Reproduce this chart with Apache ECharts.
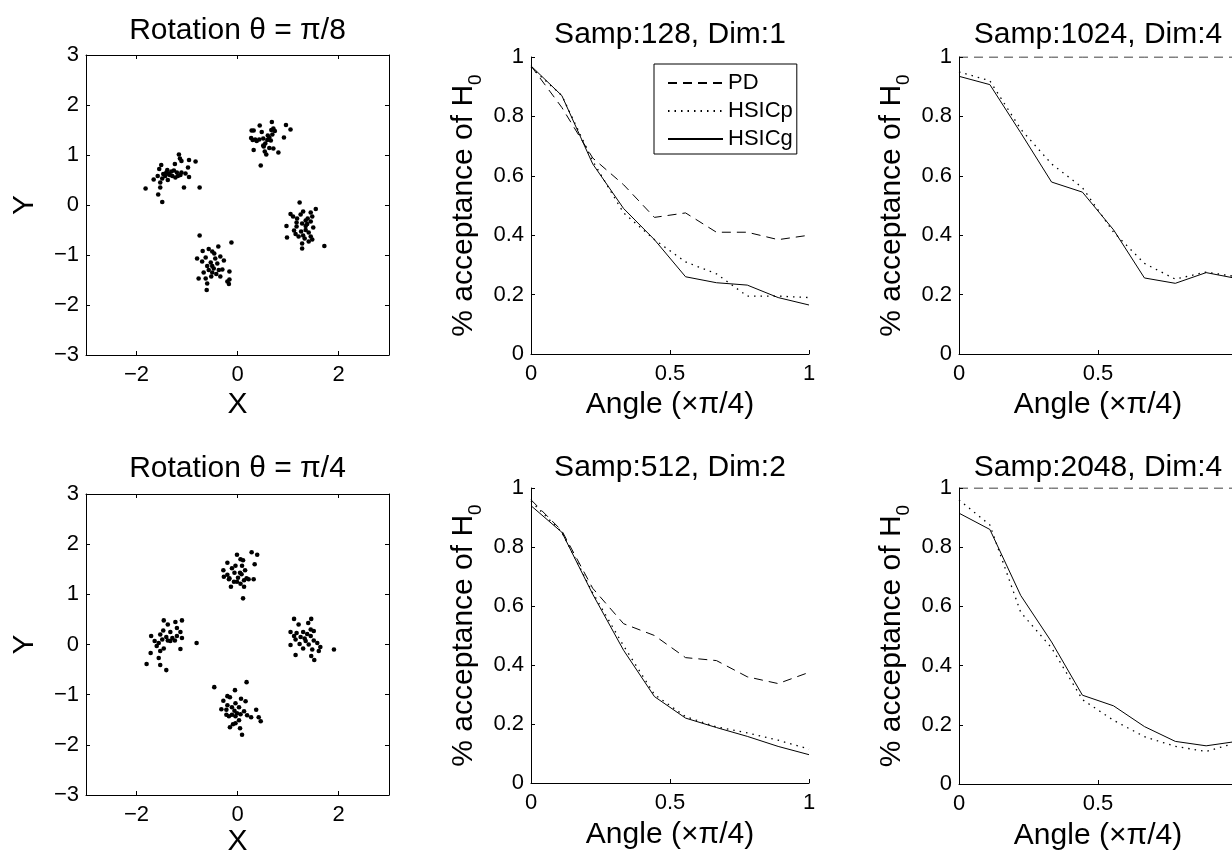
<!DOCTYPE html>
<html><head><meta charset="utf-8">
<script src="https://cdn.jsdelivr.net/npm/echarts@6/dist/echarts.min.js"></script>
<style>html,body{margin:0;padding:0;background:#fff}#c{width:1232px;height:852px}</style>
</head><body><div id="c"></div>
<script>
const FONT = '"Liberation Sans", Arial, Helvetica, sans-serif';

// ---- scatter data (rotated clusters) ----
const rotPi8 = [
 [0.44,1.59],[0.68,1.66],[0.96,1.60],[1.05,1.51],[0.28,1.49],[0.32,1.49],[0.48,1.46],[0.71,1.53],[0.67,1.50],[0.74,1.48],[0.92,1.35],[0.27,1.34],[0.30,1.30],[0.38,1.28],[0.43,1.31],[0.51,1.33],[0.59,1.30],[0.63,1.35],[0.66,1.29],[0.55,1.23],[0.52,1.17],[0.63,1.14],[0.71,1.13],[0.32,1.10],[0.54,1.07],[0.57,1.01],[0.81,1.05],[0.46,0.79],[0.35,1.31],[0.51,1.19],[0.60,1.39],[0.69,1.41],
 [-1.16,1.01],[-1.14,0.93],[-1.11,0.88],[-0.96,0.90],[-0.83,0.87],[-1.51,0.80],[-1.24,0.82],[-1.55,0.72],[-1.39,0.70],[-1.31,0.67],[-1.26,0.69],[-1.20,0.65],[-1.11,0.65],[-1.03,0.63],[-0.98,0.75],[-1.47,0.62],[-1.43,0.58],[-1.36,0.62],[-1.58,0.58],[-1.29,0.58],[-1.13,0.60],[-0.96,0.56],[-1.66,0.51],[-1.49,0.53],[-1.38,0.50],[-1.23,0.55],[-1.53,0.45],[-1.06,0.35],[-0.75,0.35],[-1.82,0.33],[-1.53,0.35],[-1.57,0.21],[-1.49,0.06],[-1.34,0.60],[-1.18,0.58],[-1.41,0.65],
 [1.23,0.05],[1.55,-0.08],[1.45,-0.15],[1.30,-0.13],[1.05,-0.18],[1.25,-0.19],[1.10,-0.23],[1.18,-0.27],[1.39,-0.27],[1.48,-0.23],[1.35,-0.31],[1.45,-0.33],[1.28,-0.37],[1.38,-0.38],[0.97,-0.42],[1.17,-0.43],[1.50,-0.45],[1.12,-0.51],[1.26,-0.53],[1.35,-0.50],[1.41,-0.55],[1.15,-0.58],[1.30,-0.61],[1.45,-0.63],[0.98,-0.65],[1.21,-0.63],[1.33,-0.67],[1.48,-0.69],[1.28,-0.77],[1.41,-0.73],[1.28,-0.87],[1.72,-0.82],[1.17,-0.35],[1.35,-0.42],
 [-0.75,-0.61],[-0.12,-0.75],[-0.57,-0.88],[-0.38,-0.83],[-0.69,-0.92],[-0.50,-0.93],[-0.46,-0.97],[-0.80,-1.07],[-0.63,-1.05],[-0.34,-1.03],[-0.27,-1.11],[-0.70,-1.13],[-0.53,-1.15],[-0.40,-1.17],[-0.60,-1.22],[-0.47,-1.27],[-0.57,-1.30],[-0.37,-1.30],[-0.30,-1.29],[-0.50,-1.35],[-0.67,-1.35],[-0.42,-1.38],[-0.16,-1.33],[-0.77,-1.47],[-0.63,-1.47],[-0.52,-1.43],[-0.34,-1.43],[-0.20,-1.53],[-0.16,-1.49],[-0.60,-1.57],[-0.17,-1.58],[-0.61,-1.70],[-0.50,-1.22],[-0.44,-1.07]
];
const rotPi4 = [
 [0.28,1.84],[0.39,1.79],[-0.01,1.79],[0.06,1.70],[0.11,1.68],[-0.20,1.63],[0.34,1.60],[-0.04,1.57],[0.09,1.57],[-0.11,1.52],[-0.28,1.48],[0.15,1.48],[0.05,1.43],[-0.06,1.43],[-0.20,1.39],[0.08,1.40],[-0.27,1.35],[-0.16,1.32],[0.01,1.33],[0.18,1.32],[0.32,1.30],[0.22,1.30],[0.13,1.28],[-0.07,1.25],[0.06,1.21],[-0.13,1.15],[0.13,1.15],[-0.01,1.25],[0.11,0.92],[-0.17,1.30],
 [-1.46,0.48],[-1.10,0.48],[-1.38,0.40],[-1.23,0.45],[-1.20,0.33],[-1.47,0.28],[-1.33,0.25],[-1.13,0.25],[-1.71,0.17],[-1.53,0.20],[-1.41,0.15],[-1.29,0.13],[-1.20,0.17],[-1.10,0.13],[-1.64,0.07],[-1.49,0.10],[-1.38,0.08],[-1.56,0.03],[-1.33,0.07],[-0.81,0.03],[-1.60,-0.03],[-1.46,-0.08],[-1.13,-0.09],[-1.72,-0.17],[-1.53,-0.13],[-1.56,-0.27],[-1.80,-0.39],[-1.53,-0.41],[-1.41,-0.51],[-1.24,0.08],
 [1.12,0.51],[1.46,0.51],[1.21,0.40],[1.40,0.43],[1.45,0.30],[1.05,0.25],[1.17,0.23],[1.30,0.25],[1.38,0.21],[1.51,0.27],[1.12,0.17],[1.25,0.15],[1.45,0.17],[1.15,0.10],[1.33,0.12],[1.51,0.08],[1.58,0.03],[1.05,-0.01],[1.23,0.01],[1.41,0.00],[1.64,-0.05],[1.30,-0.08],[1.48,-0.10],[1.15,-0.21],[1.46,-0.23],[1.52,-0.31],[1.91,-0.10],[1.61,-0.13],[1.35,0.07],
 [0.18,-0.75],[-0.46,-0.85],[-0.05,-0.91],[-0.20,-1.03],[-0.15,-1.05],[0.07,-1.08],[0.16,-1.13],[-0.28,-1.12],[-0.04,-1.17],[-0.20,-1.21],[-0.11,-1.25],[0.03,-1.25],[-0.32,-1.29],[-0.22,-1.30],[-0.06,-1.32],[0.13,-1.33],[0.37,-1.30],[-0.01,-1.37],[-0.11,-1.40],[0.06,-1.39],[0.19,-1.41],[-0.17,-1.43],[-0.04,-1.43],[0.27,-1.45],[0.42,-1.45],[0.46,-1.53],[0.03,-1.51],[-0.09,-1.59],[-0.15,-1.65],[0.05,-1.67],[0.09,-1.80],[-0.04,-1.57],[-0.22,-1.40]
];

// ---- line data: acceptance of H0 vs angle (x pi/4) ----
const angles = [0, 0.111, 0.222, 0.333, 0.444, 0.556, 0.667, 0.778, 0.889, 1];
const pd128   = [0.97, 0.83, 0.66, 0.57, 0.46, 0.475, 0.41, 0.41, 0.385, 0.40];
const hp128   = [0.965, 0.87, 0.65, 0.475, 0.385, 0.31, 0.27, 0.195, 0.195, 0.19];
const hg128   = [0.97, 0.87, 0.64, 0.49, 0.385, 0.26, 0.24, 0.232, 0.19, 0.165];
const pd1024  = [1, 1, 1, 1, 1, 1, 1, 1, 1, 1];
const hp1024  = [0.95, 0.92, 0.757, 0.64, 0.56, 0.41, 0.305, 0.252, 0.276, 0.26];
const hg1024  = [0.935, 0.907, 0.745, 0.579, 0.545, 0.418, 0.256, 0.238, 0.274, 0.254];
const pd512   = [0.96, 0.855, 0.66, 0.54, 0.50, 0.425, 0.415, 0.36, 0.337, 0.375];
const hp512   = [0.955, 0.85, 0.645, 0.465, 0.30, 0.225, 0.19, 0.17, 0.145, 0.115];
const hg512   = [0.94, 0.85, 0.64, 0.45, 0.293, 0.22, 0.188, 0.158, 0.124, 0.096];
const pd2048  = [1, 1, 1, 1, 1, 1, 1, 1, 1, 1];
const hp2048  = [0.96, 0.875, 0.58, 0.46, 0.285, 0.215, 0.16, 0.127, 0.11, 0.14];
const hg2048  = [0.915, 0.86, 0.637, 0.48, 0.30, 0.264, 0.194, 0.144, 0.129, 0.144];

const scatterTitles = ['Rotation \u03b8 = \u03c0/8', 'Rotation \u03b8 = \u03c0/4'];
const lineTitles = ['Samp:128, Dim:1', 'Samp:512, Dim:2', 'Samp:1024, Dim:4', 'Samp:2048, Dim:4'];
const legendNames = ['PD', 'HSICp', 'HSICg'];
const scatterXTicks = [-2, 0, 2];

const TICK = 22, NAME = 30, TITLE = 30;
const fmtMinus = v => String(v).replace('-', '\u2212');
const axLine = {show: true, onZero: false, lineStyle: {color: '#000', width: 1}};
const tickSt = {color: '#000', width: 1};
const lbl = (extra) => Object.assign({color: '#000', fontSize: TICK, fontFamily: FONT}, extra);

// grids: 0,1 scatter; 2..5 line plots
const grids = [
  {left: 86, top: 55, width: 303, height: 300},
  {left: 86, top: 494, width: 303, height: 301},
  {left: 531, top: 57, width: 278, height: 297},
  {left: 531, top: 488, width: 278, height: 295},
  {left: 959, top: 57, width: 278, height: 297},
  {left: 959, top: 488, width: 278, height: 296}
].map(g => Object.assign({outerBoundsMode: 'none', containLabel: false}, g));
const scatterNameGaps = [35, 30];
const lineNameGaps = [36, 37, 36, 37];

const xAxes = [], yAxes = [];
[0, 1].forEach(g => {
  xAxes.push({gridIndex: g, type: 'value', min: -3, max: 3, position: 'bottom',
    axisLine: axLine, splitLine: {show: false},
    axisTick: {show: true, inside: true, length: 4, customValues: scatterXTicks, lineStyle: tickSt},
    axisLabel: lbl({customValues: scatterXTicks, formatter: fmtMinus, margin: 9}),
    name: 'X', nameLocation: 'middle', nameGap: scatterNameGaps[g],
    nameTextStyle: {color: '#000', fontSize: NAME, fontFamily: FONT}});
  xAxes.push({gridIndex: g, type: 'value', min: -3, max: 3, position: 'top',
    axisLine: axLine, splitLine: {show: false},
    axisTick: {show: true, inside: true, length: 4, customValues: scatterXTicks, lineStyle: tickSt},
    axisLabel: {show: false}});
  yAxes.push({gridIndex: g, type: 'value', min: -3, max: 3, interval: 1, position: 'left',
    axisLine: axLine, splitLine: {show: false},
    axisTick: {show: true, inside: true, length: 4, lineStyle: tickSt},
    axisLabel: lbl({formatter: fmtMinus, margin: 7}),
    name: 'Y', nameLocation: 'middle', nameRotate: 90, nameGap: 46,
    nameTextStyle: {color: '#000', fontSize: NAME, fontFamily: FONT}});
  yAxes.push({gridIndex: g, type: 'value', min: -3, max: 3, interval: 1, position: 'right',
    axisLine: axLine, splitLine: {show: false},
    axisTick: {show: true, inside: true, length: 4, lineStyle: tickSt},
    axisLabel: {show: false}});
});
[2, 3, 4, 5].forEach((g, k) => {
  xAxes.push({gridIndex: g, type: 'value', min: 0, max: 1, interval: 0.5,
    axisLine: axLine, splitLine: {show: false},
    axisTick: {show: true, inside: true, length: 4, lineStyle: tickSt},
    axisLabel: lbl({margin: 9, showMaxLabel: true}),
    name: 'Angle (\u00d7\u03c0/4)', nameLocation: 'middle', nameGap: lineNameGaps[k],
    nameTextStyle: {color: '#000', fontSize: NAME, fontFamily: FONT}});
  yAxes.push({gridIndex: g, type: 'value', min: 0, max: 1, interval: 0.2,
    axisLine: axLine, splitLine: {show: false},
    axisTick: {show: true, inside: true, length: 4, lineStyle: tickSt},
    axisLabel: lbl({margin: 7}),
    name: '{a|% acceptance of H}{b|0}', nameLocation: 'middle', nameRotate: 90, nameGap: 50,
    nameTextStyle: {color: '#000', fontFamily: FONT,
      rich: {a: {fontSize: NAME, fontFamily: FONT, color: '#000', lineHeight: 32, verticalAlign: 'top'},
             b: {fontSize: 19, fontFamily: FONT, color: '#000', lineHeight: 19, padding: [17, 0, 0, 0], verticalAlign: 'top'}}}});
});

const series = [];
[rotPi8, rotPi4].forEach((pts, i) => {
  series.push({type: 'scatter', xAxisIndex: i * 2, yAxisIndex: i * 2, data: pts,
    symbol: 'circle', symbolSize: 4.6, itemStyle: {color: '#000', opacity: 1}, silent: true});
});
const dashes = {PD: [9, 6], HSICp: [1.5, 5], HSICg: 'solid'};
const lineSets = [
  [pd128, hp128, hg128],
  [pd512, hp512, hg512],
  [pd1024, hp1024, hg1024],
  [pd2048, hp2048, hg2048]
];
lineSets.forEach((set, k) => {
  const ax = 4 + k;
  set.forEach((vals, j) => {
    const name = legendNames[j];
    series.push({type: 'line', name: name, xAxisIndex: ax, yAxisIndex: ax,
      data: angles.map((a, i) => [a, vals[i]]), symbol: 'none', showSymbol: false, silent: true,
      lineStyle: {color: '#000', width: name === 'HSICp' ? 1.3 : 1, type: dashes[name]},
      itemStyle: {color: '#000'}});
  });
});

// titles (centered over each axes box)
const titleCenters = [
  [237.5, 31, scatterTitles[0]], [237.5, 469, scatterTitles[1]],
  [670, 35, lineTitles[0]], [670, 468, lineTitles[1]],
  [1098, 35, lineTitles[2]], [1098, 468, lineTitles[3]]
];
const graphics = titleCenters.map(t => ({type: 'text', x: t[0], y: t[1], silent: true,
  style: {text: t[2], fill: '#000', font: TITLE + 'px ' + FONT, align: 'center', verticalAlign: 'middle',
          textAlign: 'center', textVerticalAlign: 'middle'}}));

const chart = echarts.init(document.getElementById('c'), null, {renderer: 'canvas'});
chart.setOption({
  animation: false,
  backgroundColor: '#fff',
  grid: grids,
  xAxis: xAxes,
  yAxis: yAxes,
  series: series,
  graphic: graphics,
  legend: {data: legendNames, orient: 'vertical', left: 654, top: 64,
    padding: [8, 4, 4, 13], itemGap: 6, itemWidth: 55, itemHeight: 12,
    backgroundColor: '#fff', borderColor: '#000', borderWidth: 1, borderRadius: 0,
    selectedMode: false,
    itemStyle: {color: 'rgba(0,0,0,0)', borderColor: 'rgba(0,0,0,0)', borderWidth: 0, opacity: 0},
    textStyle: {color: '#000', fontSize: 22, fontFamily: FONT}}
});
</script>
</body></html>
